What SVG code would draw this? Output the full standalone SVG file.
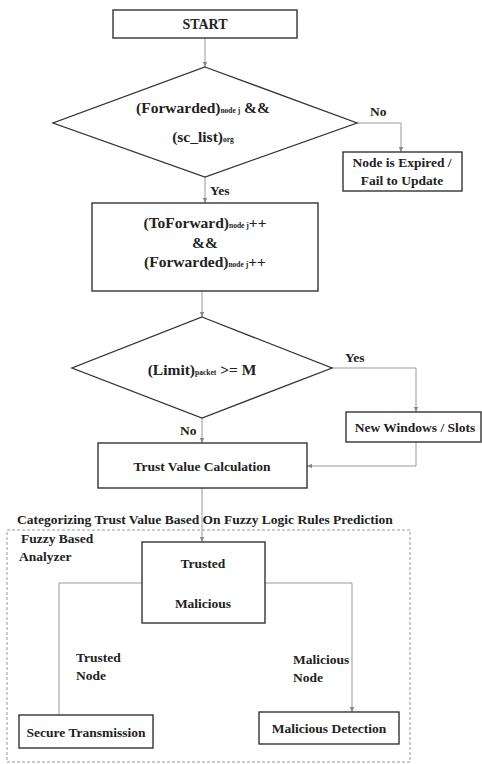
<svg xmlns="http://www.w3.org/2000/svg" width="482" height="764" viewBox="0 0 482 764">
<defs>
<marker id="arr" markerWidth="6" markerHeight="6" refX="5" refY="3" orient="auto" markerUnits="userSpaceOnUse">
<path d="M0,0.8 L5,3 L0,5.2 z" fill="#888"/>
</marker>
<style>
text{font-family:"Liberation Serif","DejaVu Serif","Times New Roman",serif;font-weight:bold;fill:#222;font-size:13.5px}
.c{text-anchor:middle}
.box{fill:#fff;stroke:#333;stroke-width:1.4}
.dia{fill:#fff;stroke:#333;stroke-width:1.3}
.con{fill:none;stroke:#999;stroke-width:1}
.sub{font-size:7.5px}
.big{font-size:15.5px}
</style>
</defs>
<rect width="482" height="764" fill="#fff"/>
<g id="connectors">
<line class="con" x1="205" y1="38" x2="205" y2="67" marker-end="url(#arr)"/>
<polyline class="con" points="357,123 401,123 401,152" marker-end="url(#arr)"/>
<line class="con" x1="205" y1="177" x2="205" y2="203" marker-end="url(#arr)"/>
<line class="con" x1="202" y1="291" x2="202" y2="317" marker-end="url(#arr)"/>
<polyline class="con" points="332,368 416,368 416,412" marker-end="url(#arr)"/>
<polyline class="con" points="416,442 416,466 307,466" marker-end="url(#arr)"/>
<line class="con" x1="202" y1="418" x2="202" y2="443" marker-end="url(#arr)"/>
<line class="con" x1="202" y1="488" x2="202" y2="542" marker-end="url(#arr)"/>
<polyline class="con" points="59,715 59,583 352,583 352,712" marker-end="url(#arr)"/>
</g>
<rect id="fuzzy-analyzer" x="7" y="530" width="403" height="232" fill="none" stroke="#999" stroke-width="1" stroke-dasharray="3,2"/>
<g id="start">
<rect class="box" x="113" y="10" width="184" height="28"/>
<text class="c" x="205" y="29" style="font-size:14px">START</text>
</g>
<g id="decision1">
<polygon class="dia" points="205,67 357,123 205,177 53,123"/>
<text class="c big" x="203" y="113">(Forwarded)<tspan class="sub">node j</tspan> &amp;&amp;</text>
<text class="c big" x="203" y="142">(sc_list)<tspan class="sub">org</tspan></text>
</g>
<g id="expired">
<rect class="box" x="343" y="152" width="119" height="39"/>
<text class="c" x="402" y="167">Node is Expired /</text>
<text class="c" x="402" y="185">Fail to Update</text>
</g>
<g id="forward">
<rect class="box" x="92" y="203" width="226" height="88"/>
<text class="c big" x="205" y="228">(ToForward)<tspan class="sub">node j</tspan>++</text>
<text class="c big" x="205" y="248">&amp;&amp;</text>
<text class="c big" x="205" y="267">(Forwarded)<tspan class="sub">node j</tspan>++</text>
</g>
<g id="decision2">
<polygon class="dia" points="202,317 332,368 202,418 72,368"/>
<text class="c big" x="202" y="375">(Limit)<tspan class="sub">packet</tspan> &gt;= M</text>
</g>
<g id="newwindows">
<rect class="box" x="346" y="412" width="135" height="30"/>
<text class="c" x="415" y="432">New Windows / Slots</text>
</g>
<g id="trustcalc">
<rect class="box" x="98" y="443" width="209" height="45"/>
<text class="c" x="202" y="471">Trust Value Calculation</text>
</g>
<g id="labels">
<text x="370" y="116">No</text>
<text x="210" y="195">Yes</text>
<text x="345" y="362">Yes</text>
<text x="180" y="435">No</text>
<text class="c" x="205" y="524">Categorizing Trust Value Based On Fuzzy Logic Rules Prediction</text>
<text x="21" y="543">Fuzzy Based</text>
<text x="19" y="561">Analyzer</text>
<text x="76" y="662">Trusted</text>
<text x="76" y="680">Node</text>
<text x="293" y="664">Malicious</text>
<text x="293" y="682">Node</text>
</g>
<g id="classifier">
<rect class="box" x="142" y="542" width="123" height="81"/>
<text class="c" x="203" y="568">Trusted</text>
<text class="c" x="203" y="608">Malicious</text>
</g>
<g id="secure">
<rect class="box" x="19" y="715" width="134" height="33"/>
<text class="c" x="86" y="737">Secure Transmission</text>
</g>
<g id="detection">
<rect class="box" x="259" y="712" width="140" height="32"/>
<text class="c" x="329" y="733">Malicious Detection</text>
</g>
</svg>
